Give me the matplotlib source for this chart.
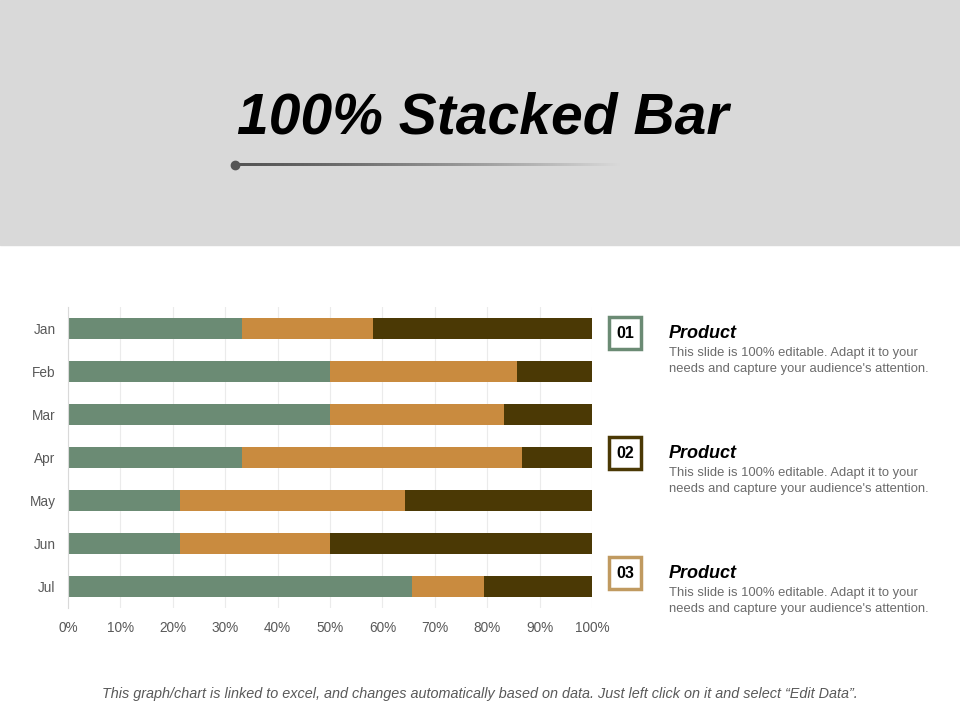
import numpy as np
import matplotlib.pyplot as plt
from matplotlib.patches import Rectangle
from matplotlib.colors import to_rgb

months = ["Jan", "Feb", "Mar", "Apr", "May", "Jun", "Jul"]
series1 = [33.3, 50.0, 50.0, 33.3, 21.4, 21.4, 65.6]
series2 = [25.0, 35.7, 33.3, 53.3, 42.9, 28.6, 13.8]
series3 = [41.7, 14.3, 16.7, 13.4, 35.7, 50.0, 20.6]
xticks = [0, 10, 20, 30, 40, 50, 60, 70, 80, 90, 100]
box_labels = ["01", "02", "03"]
desc = "This slide is 100% editable. Adapt it to your\nneeds and capture your audience's attention."

c_green = "#6b8b74"
c_orange = "#c98b3f"
c_brown = "#4b3905"
box_colors = [c_green, c_brown, "#c09a60"]

W, H = 960, 720
fig = plt.figure(figsize=(9.6, 7.2), dpi=100)
fig.patch.set_facecolor("white")

# ---- grey header band ----
bg = fig.add_axes([0, 0, 1, 1])
bg.set_xlim(0, W)
bg.set_ylim(H, 0)
bg.axis("off")
bg.add_patch(Rectangle((0, 0), W, 245, color="#d9d9d9", zorder=0))
bg.text(483, 119, "100% Stacked Bar", ha="center", va="center",
        fontsize=41, fontweight="bold", fontstyle="italic",
        family="Liberation Sans", color="black")

# gradient rule under the title
dark = np.array(to_rgb("#555555"))
light = np.array(to_rgb("#d9d9d9"))
t = np.linspace(0, 1, 256) ** 1.3
grad = (dark[None, :] + (light - dark)[None, :] * t[:, None])[None, :, :]
bg.imshow(grad, extent=(235, 620, 166.2, 163.8), aspect="auto",
          interpolation="bilinear", zorder=2)
bg.plot(235, 165, "o", color="#555555", ms=6, zorder=3)
bg.set_xlim(0, W)
bg.set_ylim(H, 0)

# ---- legend-like product notes ----
for i, (lab, bc) in enumerate(zip(box_labels, box_colors)):
    cy = 333 + i * 120
    bg.add_patch(Rectangle((609, cy - 16), 32, 32, fill=False, edgecolor=bc, lw=2.5))
    bg.text(625, cy + 1, lab, ha="center", va="center", fontsize=11.5,
            fontweight="bold", family="Liberation Sans", color="black")
    bg.text(669, cy, "Product", ha="left", va="center", fontsize=13,
            fontweight="bold", fontstyle="italic", family="Liberation Sans")
    bg.text(669, cy + 14, desc, ha="left", va="top", fontsize=9.4,
            family="Liberation Sans", color="#6b6b6b", linespacing=1.4)

bg.text(480, 694, "This graph/chart is linked to excel, and changes automatically based on data. "
        "Just left click on it and select \u201cEdit Data\u201d.",
        ha="center", va="center", fontsize=10.4, fontstyle="italic",
        family="Liberation Sans", color="#595959")

# ---- stacked bar chart ----
ax = fig.add_axes([68 / W, 1 - 608 / H, (592 - 68) / W, 301 / H])
y = np.arange(len(months))
s1 = np.array(series1)
s2 = np.array(series2)
s3 = np.array(series3)
tot = s1 + s2 + s3
p1 = s1 / tot * 100
p2 = s2 / tot * 100
p3 = s3 / tot * 100
ax.barh(y, p1, height=0.5, color=c_green, zorder=2)
ax.barh(y, p2, left=p1, height=0.5, color=c_orange, zorder=2)
ax.barh(y, p3, left=p1 + p2, height=0.5, color=c_brown, zorder=2)

ax.set_xlim(0, 100)
ax.set_ylim(6.5, -0.5)
ax.set_yticks(y)
ax.set_yticklabels(months)
ax.set_xticks(xticks)
ax.set_xticklabels([f"{t}%" for t in xticks])
ax.tick_params(length=0, labelsize=9.8, colors="#595959", pad=9)
for lbl in ax.get_xticklabels() + ax.get_yticklabels():
    lbl.set_family("Liberation Sans")
ax.grid(axis="x", color="#ebebeb", lw=0.8, zorder=0)
for side in ["top", "right", "bottom"]:
    ax.spines[side].set_visible(False)
ax.spines["left"].set_color("#d9d9d9")
ax.set_facecolor("none")

fig.savefig("out.png", dpi=100)
